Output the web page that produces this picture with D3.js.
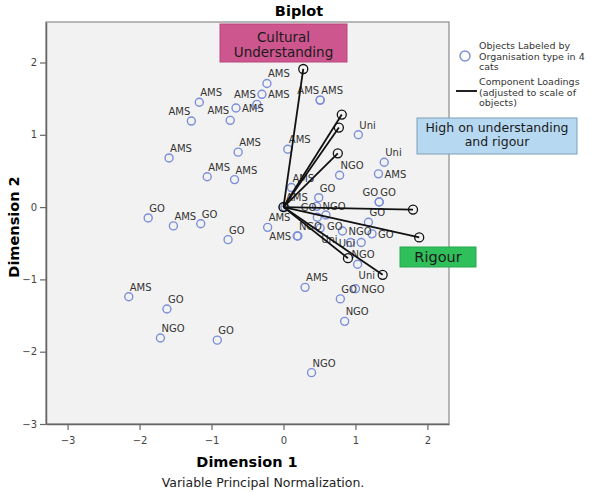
<!DOCTYPE html>
<html>
<head>
<meta charset="utf-8">
<script src="https://cdn.jsdelivr.net/npm/d3@7"></script>
<style>
  body { margin: 0; background: #fff; }
  svg text { font-family: "DejaVu Sans", sans-serif; }
</style>
</head>
<body>
<div id="chart"></div>
<script>

// object scores (dimension 1, dimension 2) and their labels
var pointX = [-0.23, -0.30, -0.37, -0.66, -0.74, -1.17, -1.28, -1.59, -0.63, -1.06, -0.68, 0.06, 0.11, 0.51, 0.51,
	-1.88, -1.53, -1.15, -0.77, -0.22, 0.02, 0.20, 0.19,
	1.04, 1.40, 1.32, 0.78, 0.49, 1.33, 1.33, 0.46, 0.59, 0.47, 1.18, 1.23, 0.51, 0.82, 0.93, 1.08, 1.03,
	0.30, 1.00, 0.79, 0.85,
	-2.15, -1.62, -1.71, -0.92, 0.39];
var pointY = [1.71, 1.56, 1.42, 1.37, 1.20, 1.45, 1.19, 0.68, 0.76, 0.42, 0.38, 0.80, 0.27, 1.48, 1.48,
	-0.15, -0.26, -0.23, -0.45, -0.28, 0.00, -0.40, -0.40,
	1.00, 0.62, 0.46, 0.44, 0.13, 0.07, 0.07, 0.01, -0.11, -0.14, -0.21, -0.37, -0.29, -0.33, -0.49, -0.49, -0.79,
	-1.11, -1.13, -1.27, -1.58,
	-1.24, -1.41, -1.81, -1.84, -2.29];
var pointLabel = ["AMS", "AMS", "AMS", "AMS", "AMS", "AMS", "AMS", "AMS", "AMS", "AMS", "AMS", "AMS", "AMS", "AMS", "AMS",
	"GO", "AMS", "GO", "GO", "AMS", "AMS", "NGO", "AMS",
	"Uni", "Uni", "AMS", "NGO", "GO", "GO", "GO", "NGO", "GO", "GO", "GO", "GO", "Uni", "NGO", "NGO", "Uni", "Uni",
	"AMS", "NGO", "GO", "NGO",
	"AMS", "GO", "NGO", "GO", "NGO"];

// component loadings
var loadingX = [0.275, 0.81, 0.77, 0.755, 1.80, 1.886, 0.896, 1.378];
var loadingY = [1.91, 1.28, 1.10, 0.744, -0.034, -0.42, -0.707, -0.937];

var xTicks = [-3, -2, -1, 0, 1, 2];
var yTicks = [-3, -2, -1, 0, 1, 2];

var legendLines1 = ["Objects Labeled by", "Organisation type in 4", "cats"];
var legendLines2 = ["Component Loadings", "(adjusted to scale of", "objects)"];

var width = 600, height = 492;
var plot = {left: 46, right: 449, top: 22, bottom: 424};

var svg = d3.select("#chart").append("svg")
	.attr("width", width)
	.attr("height", height);

var x = d3.scaleLinear().domain([-3.3, 2.3]).range([plot.left, plot.right]);
var y = d3.scaleLinear().domain([-3, 2.56]).range([plot.bottom, plot.top]);

// plot area
svg.append("rect")
	.attr("x", plot.left)
	.attr("y", plot.top)
	.attr("width", plot.right - plot.left)
	.attr("height", plot.bottom - plot.top)
	.attr("fill", "#f2f2f2")
	.attr("stroke", "#8a8a8a")
	.attr("stroke-width", 1.2);

var fmt = function(d) { return d < 0 ? "\u2212" + Math.abs(d) : d; };

// axes
var xAxis = svg.append("g")
	.attr("transform", "translate(0," + plot.bottom + ")")
	.call(d3.axisBottom(x).tickValues(xTicks).tickFormat(fmt).tickSize(6).tickSizeOuter(0));
var yAxis = svg.append("g")
	.attr("transform", "translate(" + plot.left + ",0)")
	.call(d3.axisLeft(y).tickValues(yTicks).tickFormat(fmt).tickSize(6).tickSizeOuter(0));

[xAxis, yAxis].forEach(function(a) {
	a.select(".domain").attr("stroke", "#666").attr("stroke-width", 1.5);
	a.selectAll(".tick line").attr("stroke", "#666").attr("stroke-width", 1.2);
	a.selectAll(".tick text").attr("fill", "#444").style("font-size", "10px");
});
xAxis.selectAll(".tick text").attr("dy", "1.1em");

// titles
svg.append("text")
	.attr("x", 299).attr("y", 16)
	.attr("text-anchor", "middle")
	.style("font-size", "14.5px").style("font-weight", "bold")
	.text("Biplot");

svg.append("text")
	.attr("x", 247).attr("y", 467)
	.attr("text-anchor", "middle")
	.style("font-size", "14.5px").style("font-weight", "bold")
	.text("Dimension 1");

svg.append("text")
	.attr("x", 263).attr("y", 487)
	.attr("text-anchor", "middle")
	.style("font-size", "12.5px")
	.attr("fill", "#222")
	.text("Variable Principal Normalization.");

svg.append("text")
	.attr("transform", "translate(19,227) rotate(-90)")
	.attr("text-anchor", "middle")
	.style("font-size", "14.5px").style("font-weight", "bold")
	.text("Dimension 2");

// object points
var points = d3.range(pointX.length).map(function(i) {
	return {x: pointX[i], y: pointY[i], label: pointLabel[i]};
});

var gPts = svg.append("g");
gPts.selectAll("circle")
	.data(points)
	.enter().append("circle")
	.attr("cx", function(d) { return x(d.x); })
	.attr("cy", function(d) { return y(d.y); })
	.attr("r", 4)
	.attr("fill", "none")
	.attr("stroke", "#7c8fd8")
	.attr("stroke-width", 1.4);

// labels: try a few spots round each point, keep the one that hits least
var placed = [];
var overlapArea = function(b) {
	return d3.sum(placed, function(p) {
		var ox = Math.min(b.x + b.w, p.x + p.w) - Math.max(b.x, p.x);
		var oy = Math.min(b.y + b.h, p.y + p.h) - Math.max(b.y, p.y);
		return ox > 0 && oy > 0 ? ox * oy : 0;
	});
};
var gLab = svg.append("g");
points.forEach(function(d) {
	var cx = x(d.x), cy = y(d.y);
	var t = gLab.append("text")
		.style("font-size", "10px")
		.attr("fill", "#333")
		.text(d.label);
	var w = t.node().getComputedTextLength();
	var spots = [
		[cx + 1, cy - 6],
		[cx + 6, cy + 4],
		[cx - 1 - w, cy - 6],
		[cx - 6 - w, cy + 4],
		[cx + 1, cy + 15],
		[cx - 1 - w, cy + 15],
		[cx - w / 2, cy - 7],
		[cx - w / 2, cy + 16],
		[cx + 6, cy - 14],
		[cx - 6 - w, cy - 14],
		[cx + 6, cy + 20],
		[cx - 6 - w, cy + 20]
	];
	var box = function(s) { return {x: s[0] - 1, y: s[1] - 10, w: w + 2, h: 13}; };
	var pick = spots[0], best = Infinity;
	for (var k = 0; k < spots.length; k++) {
		var a = overlapArea(box(spots[k]));
		if (a < best - 0.01) { best = a; pick = spots[k]; }
		if (a === 0) break;
	}
	placed.push(box(pick));
	t.attr("x", pick[0]).attr("y", pick[1]);
});

// loading vectors
var gLoad = svg.append("g");
gLoad.selectAll("line")
	.data(loadingX)
	.enter().append("line")
	.attr("x1", x(0)).attr("y1", y(0))
	.attr("x2", function(d) { return x(d); })
	.attr("y2", function(d, i) { return y(loadingY[i]); })
	.attr("stroke", "#111")
	.attr("stroke-width", 1.8);
gLoad.selectAll("circle.end")
	.data(loadingX)
	.enter().append("circle")
	.attr("class", "end")
	.attr("cx", function(d) { return x(d); })
	.attr("cy", function(d, i) { return y(loadingY[i]); })
	.attr("r", 4.5)
	.attr("fill", "none")
	.attr("stroke", "#111")
	.attr("stroke-width", 1.3);
gLoad.append("circle")
	.attr("cx", x(0)).attr("cy", y(0))
	.attr("r", 4.5)
	.attr("fill", "none")
	.attr("stroke", "#111")
	.attr("stroke-width", 1.5);

// annotation boxes
function noteBox(x0, y0, w, h, fill, stroke, lines, size, baseline, step) {
	svg.append("rect")
		.attr("x", x0).attr("y", y0)
		.attr("width", w).attr("height", h)
		.attr("fill", fill)
		.attr("stroke", stroke)
		.attr("stroke-width", 1);
	lines.forEach(function(s, i) {
		svg.append("text")
			.attr("x", x0 + w / 2)
			.attr("y", baseline + i * step)
			.attr("text-anchor", "middle")
			.style("font-size", size)
			.attr("fill", "#1a1a1a")
			.text(s);
	});
}
noteBox(220, 24, 127, 38, "#cd568f", "#b8457c", ["Cultural", "Understanding"], "13.5px", 42, 14.5);
noteBox(417, 118, 160, 36, "#b7d8f1", "#7f9db5", ["High on understanding", "and rigour"], "12.5px", 132, 14);
noteBox(400, 247, 76, 20, "#2fbf5b", "#27a84e", ["Rigour"], "14.5px", 262, 0);

// legend
svg.append("circle")
	.attr("cx", 465).attr("cy", 56)
	.attr("r", 5)
	.attr("fill", "none")
	.attr("stroke", "#7c8fd8")
	.attr("stroke-width", 1.4);
svg.append("line")
	.attr("x1", 456).attr("x2", 477)
	.attr("y1", 91).attr("y2", 91)
	.attr("stroke", "#222")
	.attr("stroke-width", 2);
legendLines1.forEach(function(s, i) {
	svg.append("text").attr("x", 479).attr("y", 49 + i * 10.5)
		.style("font-size", "9.5px").attr("fill", "#333").text(s);
});
legendLines2.forEach(function(s, i) {
	svg.append("text").attr("x", 479).attr("y", 85 + i * 10.5)
		.style("font-size", "9.5px").attr("fill", "#333").text(s);
});

</script>
</body>
</html>
